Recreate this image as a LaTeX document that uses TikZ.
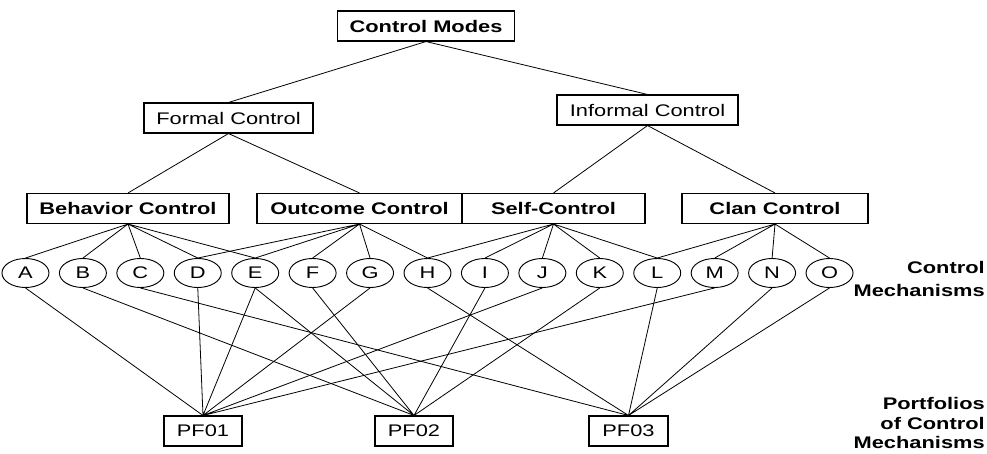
\documentclass[tikz,border=0pt]{standalone}
\usepackage{fontspec}
\setmainfont{Liberation Sans}[FakeStretch=1.3]
\usetikzlibrary{matrix,shapes.geometric}

\begin{document}
\begin{tikzpicture}[x=0.75pt, y=-0.75pt,
    box/.style={draw, line width=0.8pt, minimum height=22.5pt, inner sep=0pt, font=\fontsize{12.6}{15}\selectfont},
    mode/.style={box, font=\fontsize{12.6}{15}\selectfont\bfseries},
    mech/.style={draw, ellipse, line width=0.7pt, minimum width=35.25pt, minimum height=21.75pt, inner sep=0pt, font=\fontsize{12.6}{15}\selectfont},
    lbl/.style={anchor=east, align=right, inner sep=0pt},
    link/.style={line width=0.6pt}
]
  \useasboundingbox (0,0) rectangle (987,453);

  % control modes
  \node[mode, minimum width=132.75pt] (modes) at (426,26) {Control Modes};
  \node[box, minimum width=126.75pt] (formal) at (228.5,118) {Formal Control};
  \node[box, minimum width=135.75pt] (informal) at (647.5,110) {Informal Control};
  \node[mode, minimum width=151.5pt] (beh) at (128,208.5) {Behavior Control};
  \node[mode, minimum width=153.75pt] (out) at (359.5,208.5) {Outcome Control};
  \node[mode, minimum width=137.25pt] (self) at (553.5,208.5) {Self-Control};
  \node[mode, minimum width=139.5pt] (clan) at (775,208.5) {Clan Control};

  % control mechanisms
  \matrix (mechs) [column sep=7.125pt] at (427.5,273) {
    \node[mech] (A) {A}; & \node[mech] (B) {B}; & \node[mech] (C) {C}; & \node[mech] (D) {D}; & \node[mech] (E) {E}; &
    \node[mech] (F) {F}; & \node[mech] (G) {G}; & \node[mech] (H) {H}; & \node[mech] (I) {I}; & \node[mech] (J) {J}; &
    \node[mech] (K) {K}; & \node[mech] (L) {L}; & \node[mech] (M) {M}; & \node[mech] (N) {N}; & \node[mech] (O) {O}; \\
  };

  % portfolios
  \node[box, minimum width=58.5pt] (pf1) at (203,431) {PF01};
  \node[box, minimum width=58.5pt] (pf2) at (414,431) {PF02};
  \node[box, minimum width=59.25pt] (pf3) at (628.5,431) {PF03};

  \node[lbl, font=\fontsize{12.6}{17.25}\selectfont\bfseries] (mechlbl) at (985,279) {Control\\Mechanisms};
  \node[lbl, font=\fontsize{12.6}{14.4}\selectfont\bfseries] (pflbl) at (985,423) {Portfolios\\of Control\\Mechanisms};

  \draw[link] (modes.south) -- (formal.north) (modes.south) -- (informal.north);
  \draw[link] (formal.south) -- (beh.north) (formal.south) -- (out.north);
  \draw[link] (informal.south) -- (self.north) (informal.south) -- (clan.north);

  \draw[link] (beh.south) -- (A.north) (beh.south) -- (B.north) (beh.south) -- (C.north) (beh.south) -- (D.north) (beh.south) -- (E.north);
  \draw[link] (out.south) -- (D.north) (out.south) -- (E.north) (out.south) -- (F.north) (out.south) -- (G.north) (out.south) -- (H.north);
  \draw[link] (self.south) -- (H.north) (self.south) -- (I.north) (self.south) -- (J.north) (self.south) -- (K.north) (self.south) -- (L.north);
  \draw[link] (clan.south) -- (L.north) (clan.south) -- (M.north) (clan.south) -- (N.north) (clan.south) -- (O.north);

  \draw[link] (A.south) -- (pf1.north) (D.south) -- (pf1.north) (E.south) -- (pf1.north) (G.south) -- (pf1.north) (J.south) -- (pf1.north) (M.south) -- (pf1.north);
  \draw[link] (B.south) -- (pf2.north) (E.south) -- (pf2.north) (F.south) -- (pf2.north) (I.south) -- (pf2.north) (K.south) -- (pf2.north);
  \draw[link] (C.south) -- (pf3.north) (H.south) -- (pf3.north) (L.south) -- (pf3.north) (N.south) -- (pf3.north) (O.south) -- (pf3.north);
\end{tikzpicture}
\end{document}
